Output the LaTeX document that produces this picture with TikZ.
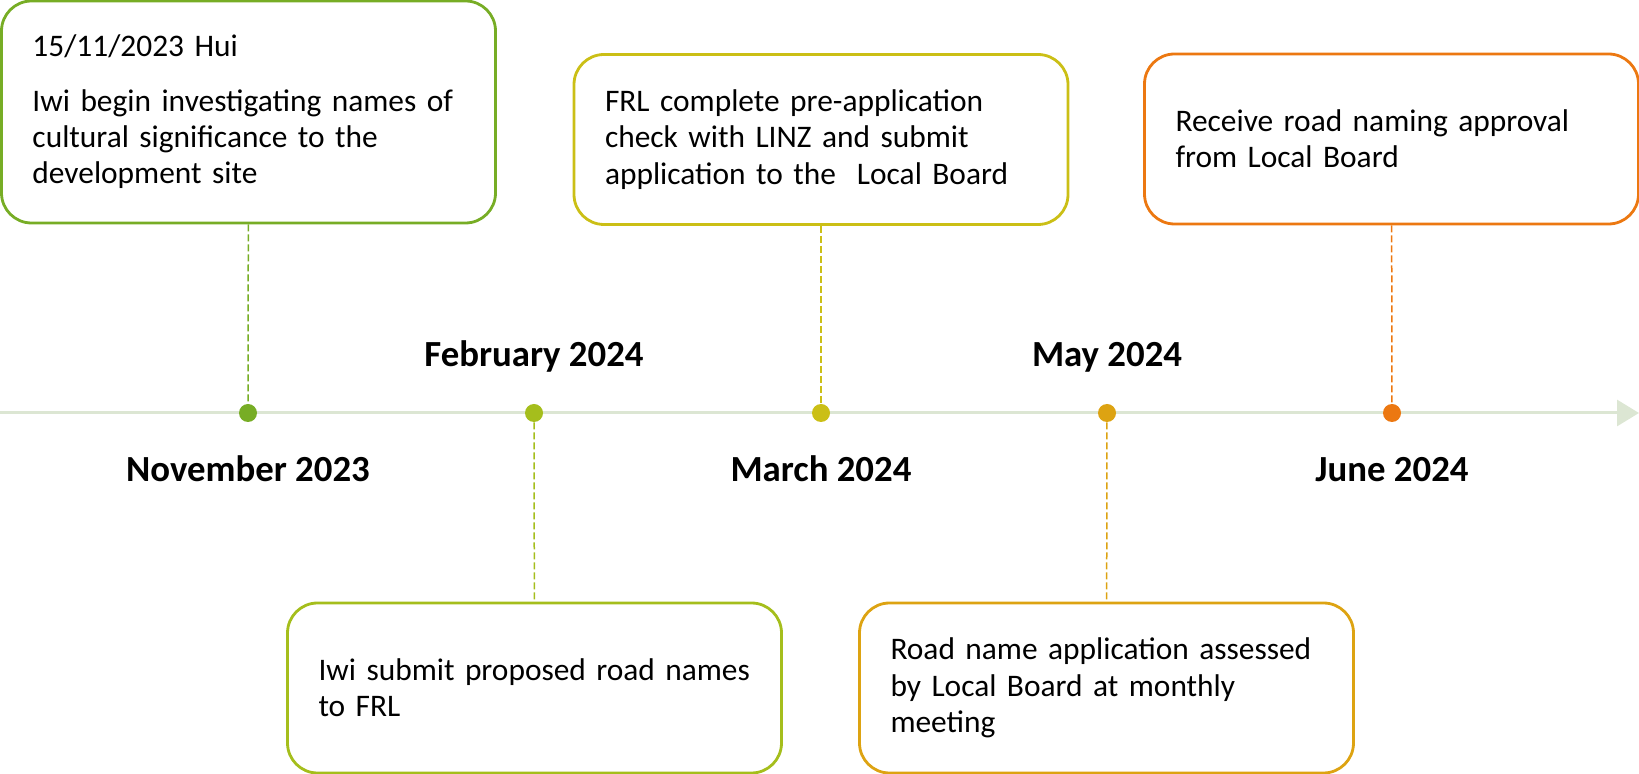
\documentclass[tikz,border=0pt]{standalone}
\usepackage{fontspec}
\setmainfont{Carlito}
\usepackage{xcolor}
\usetikzlibrary{arrows.meta}

\definecolor{novgreen}{HTML}{77AD25}
\definecolor{febgreen}{HTML}{A5BE1C}
\definecolor{maryellow}{HTML}{CBBF16}
\definecolor{mayamber}{HTML}{DDA312}
\definecolor{junorange}{HTML}{EC7811}
\definecolor{axisgreen}{HTML}{DCE6D3}

\begin{document}
\begin{tikzpicture}[
    x=0.5pt, y=-0.5pt,
    event/.style={draw, line width=1.4pt, rounded corners=15pt, fill=white, text width=216pt, inner xsep=15.5pt, inner ysep=0pt, minimum height=85pt, align=left, text=black, font=\fontsize{15.7pt}{18.2pt}\selectfont},
    milestone/.style={circle, fill, inner sep=0pt, minimum size=9pt},
    month/.style={anchor=base, font=\fontsize{18.4pt}{20pt}\selectfont\bfseries},
    link/.style={dash pattern=on 3.5pt off 1.5pt, line width=0.75pt},
    axis/.style={line width=1.5pt, draw=axisgreen, -{Triangle[length=11pt,width=13pt]}}
]
\useasboundingbox (0,0) rectangle (1639,774);

% Time axis
\coordinate (start) at (0,413);
\coordinate (end) at (1639,413);
\draw[axis] (start) -- (end);

% Milestones on the axis
\node[milestone, novgreen] (d1) at (248,413) {};
\node[milestone, febgreen] (d2) at (534,413) {};
\node[milestone, maryellow] (d3) at (821,413) {};
\node[milestone, mayamber] (d4) at (1107,413) {};
\node[milestone, junorange] (d5) at (1392,413) {};

% Event boxes
\node[event, draw=novgreen, minimum height=111pt] (b1) at (248.5,112)
  {15/11/2023 Hui\\[9pt]Iwi begin investigating names of\\cultural significance to the\\development site};
\node[event, draw=febgreen] (b2) at (534.5,688)
  {Iwi submit proposed road names\\to FRL};
\node[event, draw=maryellow] (b3) at (821,139.5)
  {FRL complete pre-application\\check with LINZ and submit\\application to the \ Local Board};
\node[event, draw=mayamber] (b4) at (1106.5,688)
  {Road name application assessed\\by Local Board at monthly\\meeting};
\node[event, draw=junorange] (b5) at (1391.5,139)
  {Receive road naming approval\\from Local Board};

% Dashed leaders
\draw[link, novgreen] (b1) -- (d1);
\draw[link, febgreen] (d2) -- (b2);
\draw[link, maryellow] (b3) -- (d3);
\draw[link, mayamber] (d4) -- (b4);
\draw[link, junorange] (b5) -- (d5);

% Month labels
\node[month] (m1) at (248,482) {November 2023};
\node[month] (m2) at (534,367) {February 2024};
\node[month] (m3) at (821,482) {March 2024};
\node[month] (m4) at (1107,367) {May 2024};
\node[month] (m5) at (1392,482) {June 2024};

\end{tikzpicture}
\end{document}
